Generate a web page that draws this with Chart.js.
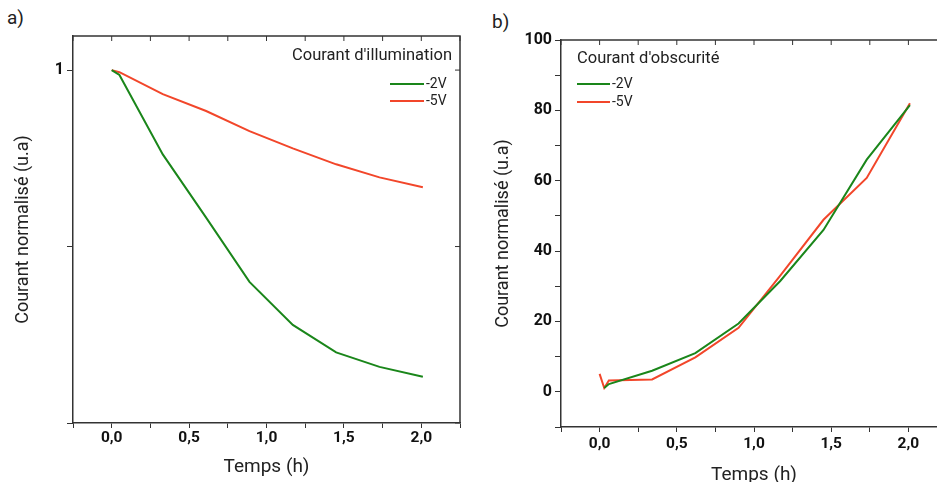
<!DOCTYPE html>
<html>
<head>
<meta charset="utf-8">
<script src="https://cdn.jsdelivr.net/npm/chart.js@4"></script>
<style>
  html, body { margin: 0; padding: 0; background: #fff; overflow: hidden; }
  body { width: 937px; height: 482px; position: relative; font-family: Roboto, sans-serif; }
  canvas { position: absolute; top: 0; }
  #graphA { left: 0; }
  #graphB { left: 470px; }
  .lettre { position: absolute; font-size: 19px; color: #222; }
</style>
</head>
<body>
<div class="lettre" style="left:7px; top:6px;">a)</div>
<div class="lettre" style="left:492px; top:10px;">b)</div>
<canvas id="graphA" width="470" height="482"></canvas>
<canvas id="graphB" width="480" height="482"></canvas>
<script>
// temps (h)
const tempsIllum = [0, 0.05, 0.33, 0.61, 0.89, 1.17, 1.45, 1.73, 2.01];
const illum2V = [1.0, 0.986, 0.761, 0.582, 0.40, 0.278, 0.20, 0.159, 0.131];
const illum5V = [1.0, 0.994, 0.932, 0.884, 0.827, 0.778, 0.733, 0.696, 0.668];

const tempsObsc = [0, 0.03, 0.06, 0.34, 0.62, 0.90, 1.17, 1.45, 1.73, 2.01];
const obsc2V = [null, 1.1, 2.2, 6.0, 11.0, 19.4, 31.5, 46.0, 66.0, 81.5];
const obsc5V = [5.1, 1.1, 3.2, 3.5, 9.8, 18.2, 33.0, 48.9, 60.8, 82.0];

const ticksTemps = [0, 0.5, 1, 1.5, 2];
const ticksIllum = [1];
const ticksObsc = [0, 20, 40, 60, 80, 100];

const VERT = '#1a861a';
const ROUGE = '#f2462a';
const AXE = '#333';

const points = (xs, ys) => xs.map((x, i) => ({ x, y: ys[i] }));
const virgule = v => v.toFixed(1).replace('.', ',');

// cadre haut / droit avec graduations vers l'interieur + legende
const cadre = {
  id: 'cadre',
  afterDraw(chart, args, opts) {
    const { ctx, chartArea: a, scales } = chart;
    ctx.save();
    ctx.strokeStyle = AXE;
    ctx.lineWidth = 1.5;
    ctx.beginPath();
    ctx.moveTo(a.left, a.top);
    ctx.lineTo(a.right, a.top);
    if (opts.droite) ctx.lineTo(a.right, a.bottom);
    ctx.stroke();
    ctx.lineWidth = 1;
    ctx.beginPath();
    for (const t of scales.x.ticks) {
      const px = scales.x.getPixelForValue(t.value);
      ctx.moveTo(px, a.top);
      ctx.lineTo(px, a.top + 5);
    }
    if (opts.droite) {
      for (const t of scales.y.ticks) {
        const py = scales.y.getPixelForValue(t.value);
        ctx.moveTo(a.right, py);
        ctx.lineTo(a.right - 5, py);
      }
    }
    ctx.stroke();

    // legende
    const L = opts.legende;
    ctx.fillStyle = '#222';
    ctx.textBaseline = 'middle';
    ctx.font = '16.5px Roboto';
    ctx.textAlign = L.alignTitre;
    ctx.fillText(L.titre, L.xTitre, L.yTitre);
    ctx.font = '14px Roboto';
    ctx.textAlign = 'left';
    chart.data.datasets.forEach((ds, i) => {
      const y = L.yLignes[i];
      ctx.strokeStyle = ds.borderColor;
      ctx.lineWidth = 2;
      ctx.beginPath();
      ctx.moveTo(L.xLigne, y);
      ctx.lineTo(L.xLigne + L.longueur, y);
      ctx.stroke();
      ctx.fillText(ds.label, L.xLigne + L.longueur + 2, y);
    });
    ctx.restore();
  }
};

const axeX = (hauteur, labelPad, titrePad) => ({
  type: 'linear',
  min: -0.25,
  max: 2.25,
  ticks: {
    stepSize: 0.25,
    padding: labelPad,
    color: '#111',
    font: { family: 'Roboto', size: 15.5, weight: 'bold' },
    callback: v => ticksTemps.some(t => Math.abs(t - v) < 1e-6) ? virgule(v) : ''
  },
  grid: { drawOnChartArea: false, tickLength: 5, color: AXE },
  border: { color: AXE, width: 1.5 },
  title: {
    display: true,
    text: 'Temps (h)',
    color: '#222',
    font: { family: 'Roboto', size: 19 },
    padding: { top: 0, bottom: titrePad }
  },
  afterFit: s => { s.height = hauteur; }
});

const tracer = (xs, s2, s5) => [
  { label: '-2V', data: points(xs, s2), borderColor: VERT, backgroundColor: VERT },
  { label: '-5V', data: points(xs, s5), borderColor: ROUGE, backgroundColor: ROUGE }
];

const axeY = (min, max, titrePad, largeur) => ({
  type: 'linear',
  min,
  max,
  ticks: {
    padding: 3,
    color: '#111',
    font: { family: 'Roboto', size: 16, weight: 'bold' }
  },
  grid: { drawOnChartArea: false, tickLength: 6, color: AXE },
  border: { color: AXE, width: 1.5 },
  title: {
    display: true,
    text: 'Courant normalisé (u.a)',
    color: '#222',
    font: { family: 'Roboto', size: 18 },
    padding: { top: titrePad, bottom: 0 }
  },
  afterFit: s => { s.width = largeur; }
});

const commun = {
  responsive: false,
  animation: false,
  elements: {
    line: { borderWidth: 2, tension: 0 },
    point: { radius: 0 }
  }
};

const yA = axeY(0, 1.0966, 13, 73);
yA.afterBuildTicks = s => { s.ticks = [0, 0.5, 1].map(value => ({ value })); };
yA.ticks.callback = v => ticksIllum.includes(v) ? String(v) : '';

new Chart(document.getElementById('graphA'), {
  type: 'line',
  plugins: [cadre],
  data: { datasets: tracer(tempsIllum, illum2V, illum5V) },
  options: {
    ...commun,
    layout: { padding: { top: 36, right: 10, left: 0, bottom: 0 } },
    plugins: {
      legend: { display: false },
      tooltip: { enabled: false },
      cadre: {
        droite: true,
        legende: {
          titre: "Courant d'illumination", alignTitre: 'right', xTitre: 452, yTitre: 56,
          xLigne: 390, longueur: 34, yLignes: [84, 101]
        }
      }
    },
    scales: { x: axeX(59, 1, 3), y: yA }
  }
});

const yB = axeY(-10, 100, 23, 91);
yB.ticks.stepSize = 10;
yB.ticks.callback = v => ticksObsc.includes(v) ? String(v) : '';

new Chart(document.getElementById('graphB'), {
  type: 'line',
  plugins: [cadre],
  data: { datasets: tracer(tempsObsc, obsc2V, obsc5V) },
  options: {
    ...commun,
    spanGaps: false,
    layout: { padding: { top: 40, right: 1.5, left: 0, bottom: 0 } },
    plugins: {
      legend: { display: false },
      tooltip: { enabled: false },
      cadre: {
        droite: false,
        legende: {
          titre: "Courant d'obscurité", alignTitre: 'left', xTitre: 107, yTitre: 59,
          xLigne: 107, longueur: 33, yLignes: [84, 102]
        }
      }
    },
    scales: { x: axeX(55, 3, -5), y: yB }
  }
});
</script>
</body>
</html>
